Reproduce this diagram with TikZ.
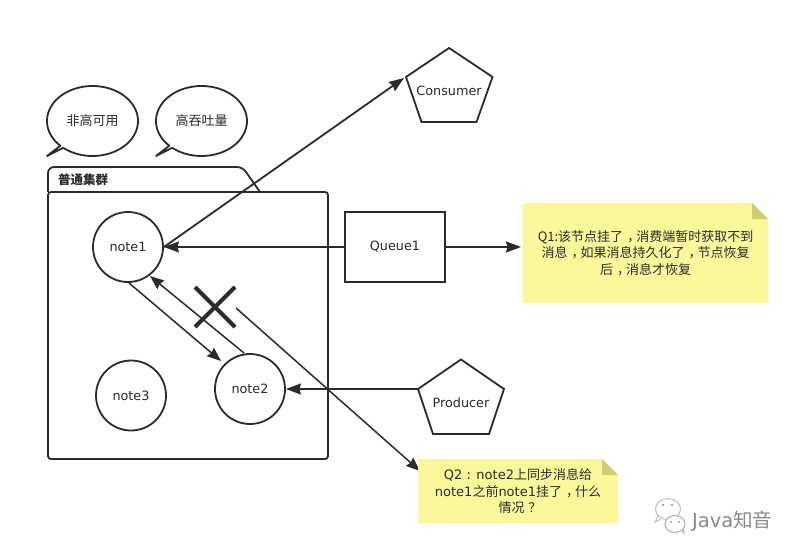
\documentclass[tikz,border=0pt]{standalone}
\usepackage{fontspec}
\setmainfont{DejaVu Sans}
\newfontfamily\cjk{Noto Sans CJK SC}
\newcommand{\cnm}{\kern.32em，\kern-.32em}
\usetikzlibrary{arrows.meta,shapes.geometric,calc}
\definecolor{ink}{HTML}{2B2B2B}
\definecolor{notey}{HTML}{FBF89B}
\definecolor{foldy}{HTML}{CFCD6E}
\definecolor{wm}{HTML}{8A8A8A}
\tikzset{
  every node/.style={text=ink,font=\fontsize{12.8}{16}\selectfont},
  noteball/.style={circle,draw=ink,line width=1.8pt,minimum size=70pt,inner sep=0pt},
  cardline/.style={draw=ink,line width=1.8pt},
  arrowline/.style={draw=ink,line width=1.8pt,-{Stealth[length=15pt,width=11pt,inset=1.5pt]}},
  thinarrow/.style={draw=ink,line width=1.5pt,-{Stealth[length=14pt,width=11pt,inset=1.5pt]}},
  q1text/.style={align=center,text=ink,inner sep=0pt,font=\cjk\fontsize{13}{16.5}\selectfont},
  q2text/.style={align=center,text=ink,inner sep=0pt,font=\fontsize{13}{16.2}\selectfont},
  wmtext/.style={text=wm,inner sep=0pt,font=\fontsize{19.5}{22}\selectfont},
}
\begin{document}
\begin{tikzpicture}[x=1pt,y=-1pt]
\useasboundingbox (0,0) rectangle (800,556);
\fill[white] (0,0) rectangle (800,556);

% container
\draw[cardline,line join=round,rounded corners=6pt] (48,192) -- (48,167) -- (243,167) -- (246,172);
\draw[cardline] (246,172) -- (260,192);
\draw[cardline,rounded corners=3pt] (48,192) -- (328,192) -- (328,459) -- (48,459) -- cycle;
\node[anchor=west,inner sep=0pt,font=\cjk\bfseries\fontsize{12.5}{15}\selectfont] (cluster) at (58,180) {普通集群};

% bubbles
\draw[cardline,line join=round] (47,156) -- plot[domain=135:490,samples=100] ({92.5+45.5*cos(\x)},{121+35*sin(\x)}) -- cycle;
\node[font=\cjk\fontsize{13}{16}\selectfont] (b1) at (92.5,121) {非高可用};
\draw[cardline,line join=round] (156,156) -- plot[domain=135:490,samples=100] ({201.5+45.5*cos(\x)},{121+35*sin(\x)}) -- cycle;
\node[font=\cjk\fontsize{13}{16}\selectfont] (b2) at (201.5,121) {高吞吐量};

% nodes
\node[noteball] (note1) at (128,247) {note1};
\node[noteball] (note2) at (250,389) {note2};
\node[noteball] (note3) at (131,395.5) {note3};
\node[draw=ink,line width=1.8pt,minimum width=100pt,minimum height=70pt,inner sep=0pt] (queue) at (395,247) {Queue1};

% pentagons
\draw[cardline,line join=miter] (449,48) -- (492.5,77) -- (476.5,122) -- (421.5,122) -- (406,77) -- cycle;
\node (consumer) at (449,90.5) {Consumer};
\draw[cardline,line join=miter] (461,359.5) -- (504,389) -- (489,434) -- (433,434) -- (418,389) -- cycle;
\node (producer) at (461,402.5) {Producer};
\coordinate (conin) at (404,78);
\coordinate (prodout) at (418,389);
\coordinate (q1in) at (521,247);
\coordinate (n1b) at (129,283);
\coordinate (n2tl) at (221,361);
\coordinate (n2t) at (244,353);
\coordinate (n1br) at (150,276);
\coordinate (q2s) at (236,308);
\coordinate (q2e) at (420,471);

% cross
\draw[draw=ink,line width=4pt] (195,287) -- (235,327);
\draw[draw=ink,line width=4pt] (195,327) -- (235,287);

% connectors
\draw[arrowline] (queue.west) -- (note1.east);
\draw[arrowline] (queue.east) -- (q1in);
\draw[arrowline] (note1.east) -- (conin);
\draw[arrowline] (prodout) -- (note2.east);
\draw[thinarrow] (n1b) -- (n2tl);
\draw[thinarrow] (n2t) -- (n1br);
\draw[thinarrow] (q2s) -- (q2e);

% note Q1
\fill[notey] (523,203) -- (752,203) -- (768,219) -- (768,303) -- (523,303) -- cycle;
\fill[foldy] (752,203) -- (768,219) -- (752,219) -- cycle;
\node[q1text] (q1) at (645.5,253) {Q1:该节点挂了\cnm 消费端暂时获取不到\\消息\cnm 如果消息持久化了\cnm 节点恢复\\后\cnm 消息才恢复};

% note Q2
\fill[notey] (418,459) -- (602,459) -- (618,475) -- (618,523) -- (418,523) -- cycle;
\fill[foldy] (602,459) -- (618,475) -- (602,475) -- cycle;
\node[q2text] (q2) at (518,491) {Q2 : note2{\cjk 上同步消息给}\\note1{\cjk 之前}note1{\cjk 挂了\cnm 什么}\\{\cjk 情况\kern.3em？\kern-.3em}};

% watermark
\draw[wm!55,line width=1pt,fill=white] (668,509) ellipse (12.5pt and 10.5pt);
\draw[wm!55,line width=1pt] (658,516) -- (655,522) -- (661,519);
\draw[wm!70,line width=1pt,fill=white] (675,524) ellipse (10pt and 8.5pt);
\draw[wm!70,line width=1pt] (681,530) -- (684,533) -- (683,528);
\fill[wm] (663,505) circle (1.2pt) (672,505) circle (1.2pt) (671,522) circle (1pt) (679,522) circle (1pt);
\node[wmtext,anchor=west] (java) at (692,521) {Java{\cjk 知音}};
\end{tikzpicture}
\end{document}
